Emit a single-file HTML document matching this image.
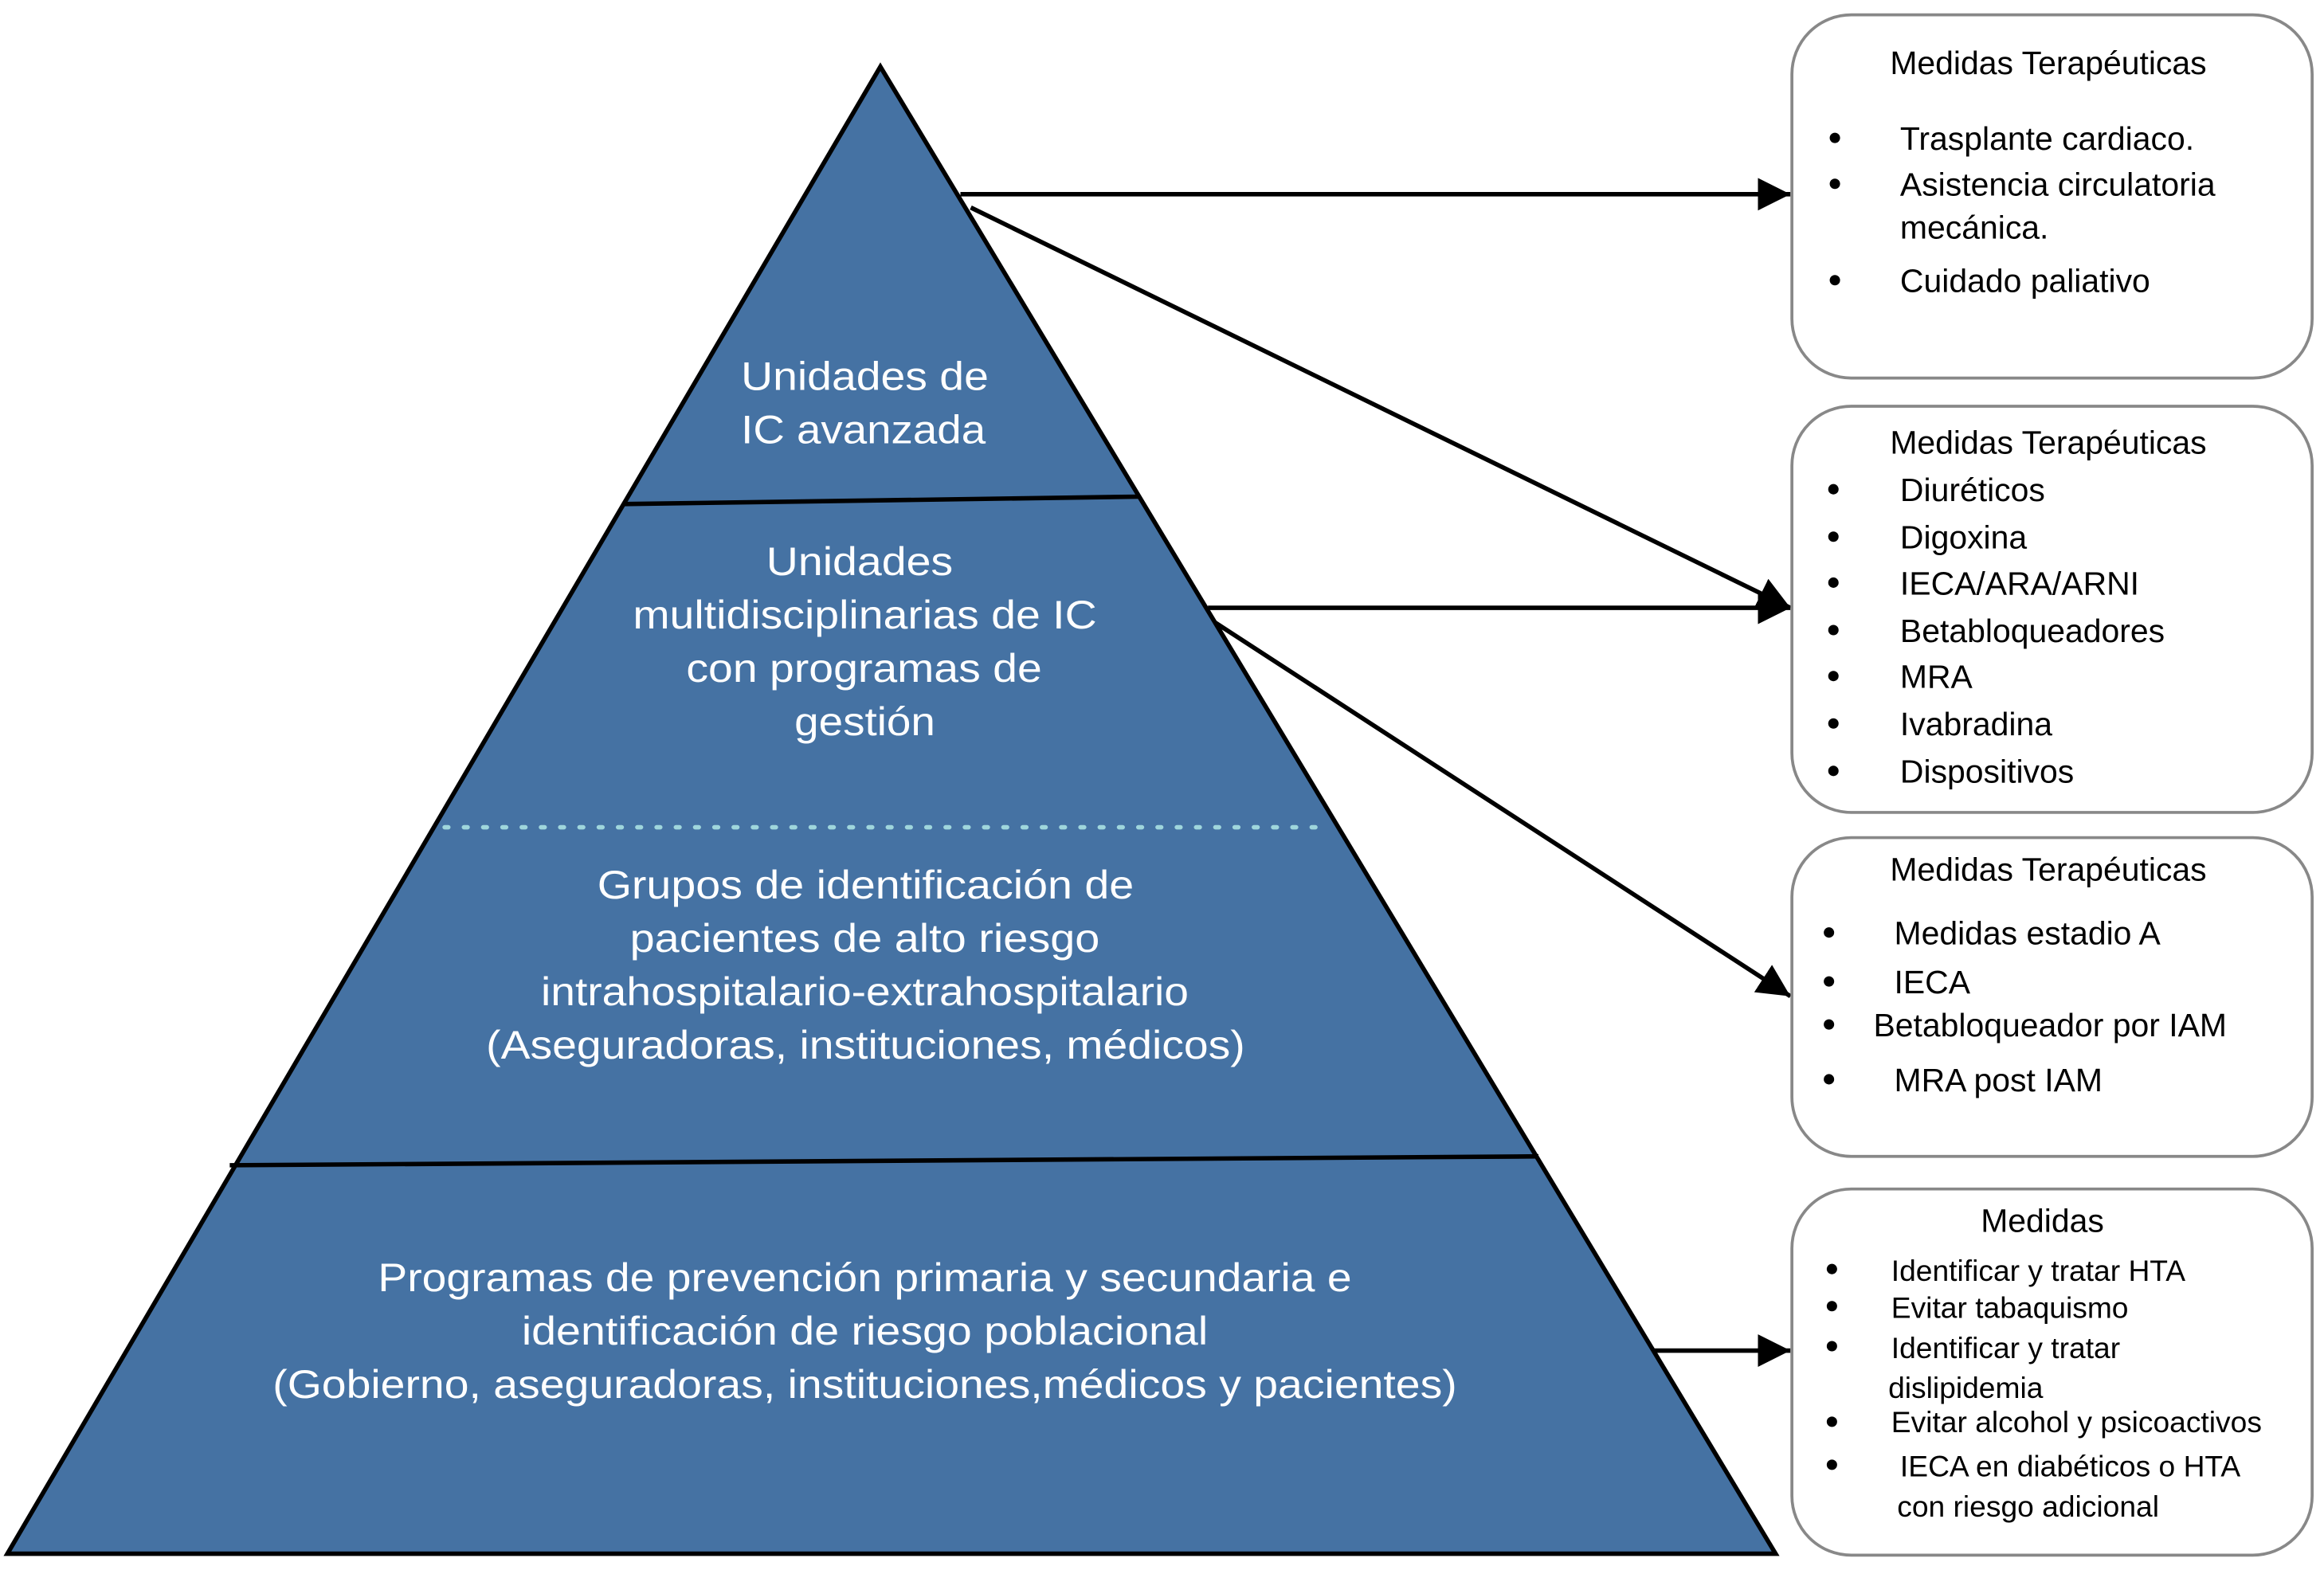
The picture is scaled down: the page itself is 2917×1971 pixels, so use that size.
<!DOCTYPE html>
<html><head><meta charset="utf-8"><style>html,body{margin:0;padding:0;background:#fff}svg{display:block}</style></head>
<body>
<svg width="2917" height="1971" viewBox="0 0 1568 1059" preserveAspectRatio="none" xmlns="http://www.w3.org/2000/svg">
<defs><marker id="a" markerWidth="10" markerHeight="10" refX="9" refY="5" orient="auto" markerUnits="userSpaceOnUse"><path d="M0,0 L10,5 L0,10 z" fill="#000"/></marker>
<marker id="b" viewBox="0 0 10 10" markerWidth="22" markerHeight="22" refX="10" refY="5" orient="auto" markerUnits="userSpaceOnUse"><path d="M0,0 L10,5 L0,10 z" fill="#000"/></marker></defs>
<polygon points="594,45 1198,1048 5,1048" fill="#4572a3" stroke="#000" stroke-width="3" stroke-linejoin="miter"/>
<line x1="420" y1="340" x2="768" y2="335" stroke="#000" stroke-width="3"/>
<line x1="155" y1="786" x2="1038" y2="780" stroke="#000" stroke-width="3"/>
<line x1="300" y1="558" x2="898" y2="558" stroke="#9fd6dc" stroke-width="3" stroke-dasharray="2.5,10.5" stroke-linecap="round"/>
<g fill="#fff" font-family="Liberation Sans, sans-serif" font-size="27" lengthAdjust="spacingAndGlyphs">
<text x="500" y="263" textLength="167" lengthAdjust="spacingAndGlyphs">Unidades de</text>
<text x="500" y="299" textLength="165" lengthAdjust="spacingAndGlyphs">IC avanzada</text>
<text x="517" y="388" textLength="126" lengthAdjust="spacingAndGlyphs">Unidades</text>
<text x="427" y="424" textLength="313" lengthAdjust="spacingAndGlyphs">multidisciplinarias de IC</text>
<text x="463" y="460" textLength="240" lengthAdjust="spacingAndGlyphs">con programas de</text>
<text x="536" y="496" textLength="95" lengthAdjust="spacingAndGlyphs">gestión</text>
<text x="403" y="606" textLength="362" lengthAdjust="spacingAndGlyphs">Grupos de identificación de</text>
<text x="425" y="642" textLength="317" lengthAdjust="spacingAndGlyphs">pacientes de alto riesgo</text>
<text x="365" y="678" textLength="437" lengthAdjust="spacingAndGlyphs">intrahospitalario-extrahospitalario</text>
<text x="328" y="714" textLength="512" lengthAdjust="spacingAndGlyphs">(Aseguradoras, instituciones, médicos)</text>
<text x="255" y="871" textLength="657" lengthAdjust="spacingAndGlyphs">Programas de prevención primaria y secundaria e</text>
<text x="352" y="907" textLength="463" lengthAdjust="spacingAndGlyphs">identificación de riesgo poblacional</text>
<text x="184" y="943" textLength="799" lengthAdjust="spacingAndGlyphs">(Gobierno, aseguradoras, instituciones,médicos y pacientes)</text>
</g>
<g stroke="#000" stroke-width="3" fill="none">
<line x1="648" y1="131" x2="1208" y2="131" marker-end="url(#b)"/>
<line x1="655" y1="140" x2="1208" y2="410" marker-end="url(#b)"/>
<line x1="815" y1="410" x2="1208" y2="410" marker-end="url(#b)"/>
<line x1="820" y1="420" x2="1208" y2="672" marker-end="url(#b)"/>
<line x1="1115" y1="911" x2="1208" y2="911" marker-end="url(#b)"/>
</g>
<g fill="#fff" stroke="#888" stroke-width="2">
<rect x="1209" y="10" width="351" height="245" rx="40"/>
<rect x="1209" y="274" width="351" height="274" rx="40"/>
<rect x="1209" y="565" width="351" height="215" rx="40"/>
<rect x="1209" y="802" width="351" height="247" rx="40"/>
</g>
<g font-family="Liberation Sans, sans-serif" font-size="22" fill="#000">
<text x="1382" y="50" text-anchor="middle">Medidas Terapéuticas</text>
<text x="1282" y="101">Trasplante cardiaco.</text>
<text x="1282" y="132">Asistencia circulatoria</text>
<text x="1282" y="161">mecánica.</text>
<text x="1282" y="197">Cuidado paliativo</text>
<text x="1382" y="306" text-anchor="middle">Medidas Terapéuticas</text>
<text x="1282" y="338">Diuréticos</text>
<text x="1282" y="370">Digoxina</text>
<text x="1282" y="401">IECA/ARA/ARNI</text>
<text x="1282" y="433">Betabloqueadores</text>
<text x="1282" y="464">MRA</text>
<text x="1282" y="496">Ivabradina</text>
<text x="1282" y="528">Dispositivos</text>
<text x="1382" y="594" text-anchor="middle">Medidas Terapéuticas</text>
<text x="1278" y="637">Medidas estadio A</text>
<text x="1278" y="670">IECA</text>
<text x="1264" y="699">Betabloqueador por IAM</text>
<text x="1278" y="736">MRA post IAM</text>
<text x="1378" y="831" text-anchor="middle">Medidas</text>
<g font-size="20">
<text x="1276" y="864">Identificar y tratar HTA</text>
<text x="1276" y="889">Evitar tabaquismo</text>
<text x="1276" y="916">Identificar y tratar</text>
<text x="1274" y="943">dislipidemia</text>
<text x="1276" y="966">Evitar alcohol y psicoactivos</text>
<text x="1282" y="996">IECA en diabéticos o HTA</text>
<text x="1280" y="1023">con riesgo adicional</text>
</g>
<g>
<circle cx="1238" cy="93" r="3.5"/><circle cx="1238" cy="124" r="3.5"/><circle cx="1238" cy="189" r="3.5"/>
<circle cx="1237" cy="330" r="3.5"/><circle cx="1237" cy="362" r="3.5"/><circle cx="1237" cy="393" r="3.5"/><circle cx="1237" cy="425" r="3.5"/><circle cx="1237" cy="456" r="3.5"/><circle cx="1237" cy="488" r="3.5"/><circle cx="1237" cy="520" r="3.5"/>
<circle cx="1234" cy="629" r="3.5"/><circle cx="1234" cy="662" r="3.5"/><circle cx="1234" cy="691" r="3.5"/><circle cx="1234" cy="728" r="3.5"/>
<circle cx="1236" cy="856" r="3.5"/><circle cx="1236" cy="881" r="3.5"/><circle cx="1236" cy="908" r="3.5"/><circle cx="1236" cy="959" r="3.5"/><circle cx="1236" cy="988" r="3.5"/>
</g>
</g>
</svg>
</body></html>
